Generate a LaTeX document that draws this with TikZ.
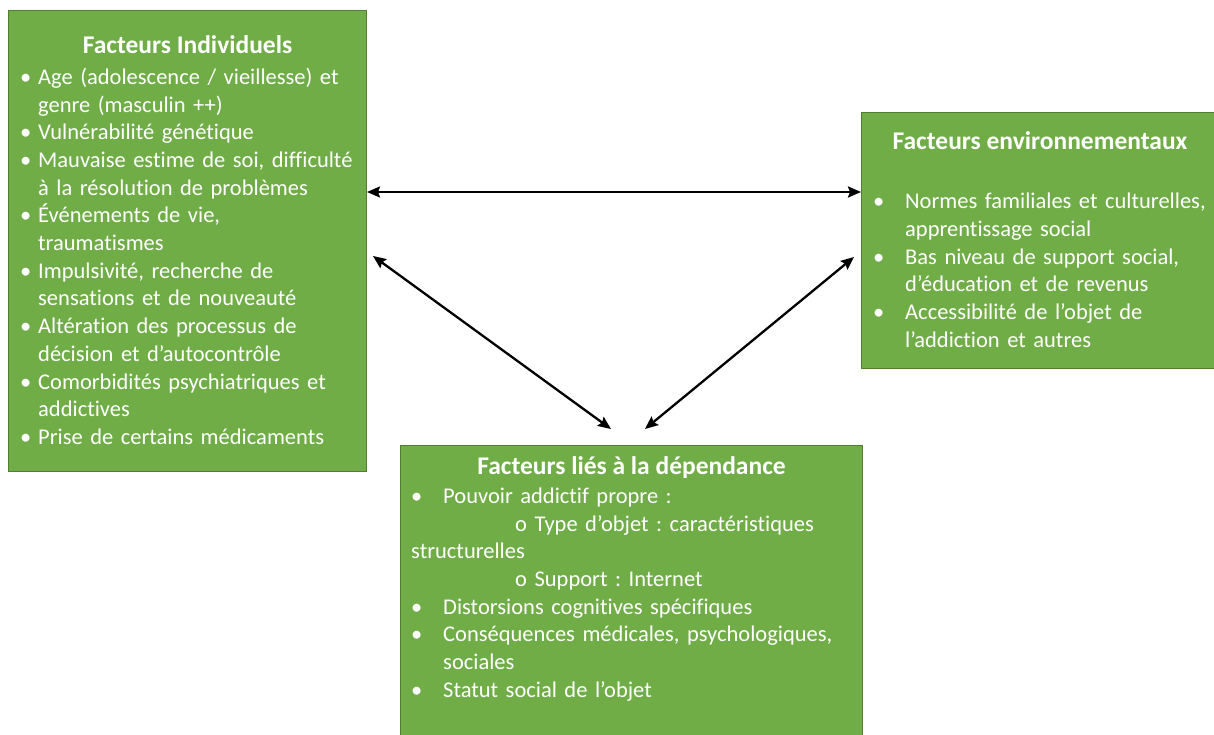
\documentclass[tikz,border=0pt]{standalone}
\usepackage{fontspec}
\setmainfont{Carlito}[Ligatures=NoCommon]
\usetikzlibrary{arrows.meta,calc,positioning}
\definecolor{boxgreen}{HTML}{70AD47}
\definecolor{boxedge}{HTML}{507E32}
\frenchspacing
% one bullet item, hanging indent #1
\newcommand\bul[2]{\par\hangindent=#1\hangafter=1\noindent\strut\makebox[#1][l]{•}#2}
\begin{document}
\begin{tikzpicture}[x=1pt, y=-1pt,
    box/.style = {draw=boxedge, fill=boxgreen, line width=1pt, anchor=north west, inner sep=0pt},
    head/.style = {font=\fontsize{25.5}{30}\selectfont\bfseries, text=white, inner sep=0pt, anchor=base},
    lst/.style = {font=\fontsize{22.5}{27.7}\selectfont\frenchspacing, text=white, inner sep=0pt, text width=440pt, align=left, anchor=north west},
    link/.style = {{Stealth[length=13pt,width=11pt,inset=2pt]}-{Stealth[length=13pt,width=11pt,inset=2pt]}, line width=2.3pt}]
    \useasboundingbox (0,0) rectangle (1214,735);

    %Boxes
    \node[box, minimum width=358pt, minimum height=461pt] (indiv) at (8,10) {};
    \node[box, minimum width=353pt, minimum height=256pt] (envir) at (861,112) {};
    \node[box, minimum width=462pt, minimum height=291pt] (depend) at (400,445) {};

    %Titles
    \node[head] (indivhead) at ($(indiv.north)+(0,44)$) {Facteurs Individuels};
    \node[head] (envirhead) at ($(envir.north)+(2,38)$) {Facteurs environnementaux};
    \node[head] (dependhead) at ($(depend.north)+(0,29)$) {Facteurs liés à la dépendance};

    %Lists
    \node[lst] (indivlist) at ($(indiv.north west)+(12,46.5)$) {
        \bul{18pt}{Age (adolescence / vieillesse) et\newline genre (masculin ++)}
        \bul{18pt}{Vulnérabilité génétique}
        \bul{18pt}{Mauvaise estime de soi, difficulté\newline à la résolution de problèmes}
        \bul{18pt}{Événements de vie,\newline traumatismes}
        \bul{18pt}{Impulsivité, recherche de\newline sensations et de nouveauté}
        \bul{18pt}{Altération des processus de\newline décision et d’autocontrôle}
        \bul{18pt}{Comorbidités psychiatriques et\newline addictives}
        \bul{18pt}{Prise de certains médicaments}\par};
    \node[lst] (envirlist) at ($(envir.north west)+(12,69)$) {
        \bul{32pt}{Normes familiales et culturelles,\newline apprentissage social}
        \bul{32pt}{Bas niveau de support social,\newline d’éducation et de revenus}
        \bul{32pt}{Accessibilité de l’objet de\newline l’addiction et autres}\par};
    \node[lst] (dependlist) at ($(depend.north west)+(11,30.5)$) {
        \bul{32pt}{Pouvoir addictif propre :}
        \par\noindent\hspace*{104pt}o Type d’objet : caractéristiques\newline structurelles
        \par\noindent\hspace*{104pt}o Support : Internet
        \bul{32pt}{Distorsions cognitives spécifiques}
        \bul{32pt}{Conséquences médicales, psychologiques,\newline sociales}
        \bul{32pt}{Statut social de l’objet}\par};

    %Arrow ends
    \coordinate (indivR) at ($(indiv.north east)+(0,182)$);
    \coordinate (envirL) at ($(envir.north west)+(0,80)$);
    \coordinate (indivLow) at ($(indiv.north east)+(6,246)$);
    \coordinate (envirLow) at ($(envir.north west)+(-7,145)$);
    \coordinate (dependL) at ($(depend.north west)+(211,-16)$);
    \coordinate (dependR) at ($(depend.north west)+(245,-16)$);

    %Arrows
    \draw[link] (indivR) -- (envirL);
    \draw[link] (indivLow) -- (dependL);
    \draw[link] (envirLow) -- (dependR);
\end{tikzpicture}
\end{document}
